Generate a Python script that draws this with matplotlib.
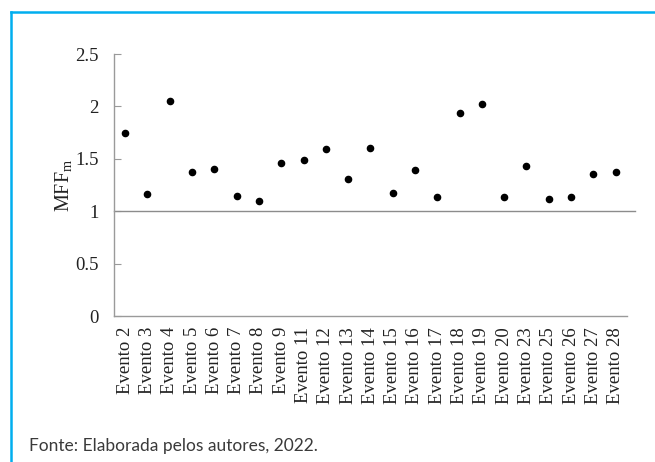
import matplotlib
matplotlib.use("Agg")
import matplotlib.pyplot as plt
from matplotlib.lines import Line2D

plt.rcParams['font.family'] = ['Liberation Serif', 'DejaVu Serif']
plt.rcParams['mathtext.fontset'] = 'custom'
plt.rcParams['mathtext.rm'] = 'Liberation Serif'
plt.rcParams['mathtext.it'] = 'Liberation Serif:italic'

# events and their MFF_m values
eventos = ["Evento 2", "Evento 3", "Evento 4", "Evento 5", "Evento 6", "Evento 7",
           "Evento 8", "Evento 9", "Evento 11", "Evento 12", "Evento 13", "Evento 14",
           "Evento 15", "Evento 16", "Evento 17", "Evento 18", "Evento 19", "Evento 20",
           "Evento 23", "Evento 25", "Evento 26", "Evento 27", "Evento 28"]
mff = [1.75, 1.16, 2.05, 1.37, 1.40, 1.15, 1.10, 1.46, 1.49, 1.59, 1.31, 1.60,
       1.17, 1.39, 1.14, 1.94, 2.02, 1.14, 1.43, 1.12, 1.14, 1.36, 1.37]
y_ticks = [0, 0.5, 1, 1.5, 2, 2.5]
y_tick_labels = ["0", "0.5", "1", "1.5", "2", "2.5"]
fonte = "Fonte: Elaborada pelos autores, 2022."

fig = plt.figure(figsize=(6.55, 4.62), dpi=100)
ax = fig.add_axes([0.174, 0.316, 0.783, 0.567])

x = list(range(len(eventos)))
ax.scatter(x, mff, s=20, color='black', zorder=3)

# reference line at MFF = 1
ax.axhline(1, xmin=0, xmax=1.016, color='#8c8c8c', lw=1.0, clip_on=False, zorder=2)

ax.set_xlim(-0.5, len(eventos) - 0.5)
ax.set_ylim(0, 2.5)
ax.set_yticks(y_ticks)
ax.set_yticklabels(y_tick_labels)
ax.set_xticks(x)
ax.set_xticklabels(eventos, rotation=90)

for side in ['top', 'right']:
    ax.spines[side].set_visible(False)
for side in ['left', 'bottom']:
    ax.spines[side].set_color('#9a9a9a')
    ax.spines[side].set_linewidth(1.0)

ax.tick_params(axis='y', direction='in', length=5, width=0.8, color='#9a9a9a',
               labelsize=13.5, pad=11, labelcolor='#222222')
ax.tick_params(axis='x', length=0, labelsize=13.5, pad=8, labelcolor='#222222')

ax.set_ylabel(r'MFF$_\mathrm{m}$', fontsize=14.5, color='#222222', labelpad=1)

# blue corner frame (top and left)
blue = '#00aeef'
fig.add_artist(Line2D([0.0168, 0.0168], [0.0, 0.974], color=blue, lw=1.8))
fig.add_artist(Line2D([0.0168, 1.0], [0.974, 0.974], color=blue, lw=1.8))

fig.text(0.044, 0.035, fonte, fontsize=12.5, color='#3a3a3a',
         family=['Lato', 'DejaVu Sans'], va='center')

fig.savefig("out.png", dpi=100)
